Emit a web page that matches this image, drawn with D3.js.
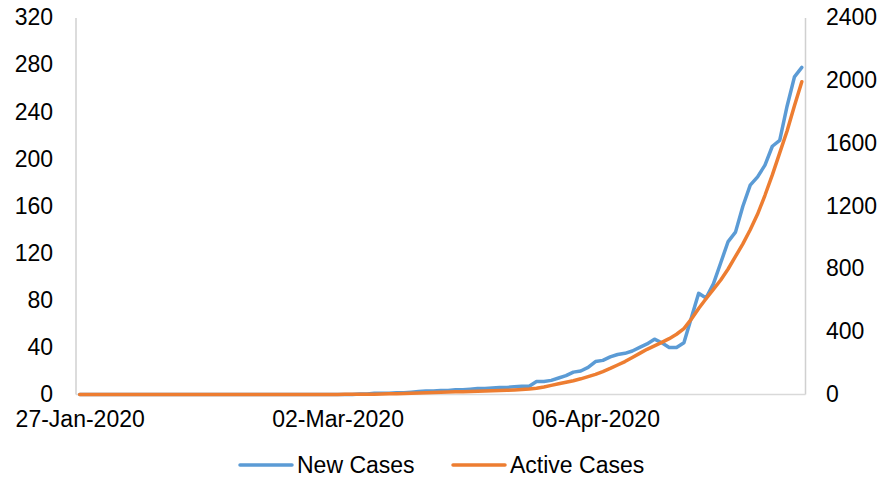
<!DOCTYPE html>
<html>
<head>
<meta charset="utf-8">
<script src="https://cdn.jsdelivr.net/npm/d3@7/dist/d3.min.js"></script>
<style>
  html, body { margin: 0; padding: 0; background: #fff; }
  svg text { font-family: "Liberation Sans", Arial, sans-serif; fill: #000; }
</style>
</head>
<body>
<svg id="chart" width="883" height="482"></svg>
<script>
// ---- data ----
const startDate = "2020-01-27";   // first day of the daily series
const seriesNames = ["New Cases", "Active Cases"];
const xTickLabels = ["27-Jan-2020", "02-Mar-2020", "06-Apr-2020"];
const leftTicks = [0, 40, 80, 120, 160, 200, 240, 280, 320];
const rightTicks = [0, 400, 800, 1200, 1600, 2000, 2400];

// New Cases (left axis), one value per day from 27-Jan-2020 to 04-May-2020
const newCases = [
  0,0,0,0,0,0,0,0,0,0,
  0,0,0,0,0,0,0,0,0,0,
  0,0,0,0,0,0,0,0,0,0,
  0,0,0,0,0,0,0,0,0.5,0.5,
  1,1,1,1.5,1.5,2,2.5,3,3,3.5,
  3.5,4,4,4.5,5,5,5.5,6,6,6.5,
  7,7,11,11,12,14,16,19,20,23,
  28,29,32,34,35,37,40,43,47,44,
  40,40,44,65,86,82,94,112,130,138,
  160,178,185,195,211,216,245,270,278
];
// Active Cases (right axis)
const activeCases = [
  0,0,0,0,0,0,0,0,0,0,
  0,0,0,0,0,0,0,0,0,0,
  0,0,0,0,0,0,0,0,0,0,
  0,0,0,0,0,0,1,1,1,2,
  2,3,4,5,6,8,10,11,13,15,
  16,17,18,19,21,22,24,25,27,29,
  32,35,40,48,58,68,78,88,100,114,
  128,146,166,188,210,236,262,288,310,332,
  356,384,420,480,548,610,670,730,800,880,
  960,1050,1150,1270,1400,1540,1680,1840,1994
];
const colors = ["#5B9BD5", "#ED7D31"];

// ---- layout ----
const svg = d3.select("#chart");
const plot = { left: 76, right: 805.5, top: 18, bottom: 394.5 };
const parse = d3.timeParse("%Y-%m-%d");
const fmt = d3.timeFormat("%d-%b-%Y");
const d0 = parse(startDate);
const n = newCases.length;
const dates = d3.range(n).map(i => d3.timeDay.offset(d0, i));

// Excel date axis: each day occupies a bin, points sit in bin centres
const x = d3.scaleTime()
  .domain([d3.timeHour.offset(d0, -12), d3.timeHour.offset(dates[n - 1], 12)])
  .range([plot.left, plot.right]);
const yL = d3.scaleLinear().domain([0, 320]).range([plot.bottom, plot.top]);
const yR = d3.scaleLinear().domain([0, 2400]).range([plot.bottom, plot.top]);

const axisColor = "#D0D0D0";
// axis lines
svg.append("line").attr("x1", plot.left).attr("x2", plot.left)
  .attr("y1", plot.top).attr("y2", plot.bottom)
  .attr("stroke", axisColor).attr("stroke-width", 1.5);
svg.append("line").attr("x1", plot.right).attr("x2", plot.right)
  .attr("y1", plot.top).attr("y2", plot.bottom)
  .attr("stroke", axisColor).attr("stroke-width", 1.5);
svg.append("line").attr("x1", plot.left).attr("x2", plot.right)
  .attr("y1", plot.bottom).attr("y2", plot.bottom)
  .attr("stroke", "#D9D9D9").attr("stroke-width", 1.5);

const fs = 23;
const ff = '"Liberation Sans", Arial, sans-serif';
// left axis labels
const gL = svg.append("g").attr("transform", `translate(${plot.left},0)`)
  .call(d3.axisLeft(yL).tickValues(leftTicks).tickFormat(d3.format("d")).tickSize(0).tickPadding(23));
gL.select(".domain").remove();
gL.selectAll("text").attr("font-size", fs).attr("dy", "0.3em")
  .style("font-family", ff).attr("fill", "#000");

// right axis labels
const gR = svg.append("g").attr("transform", `translate(${plot.right},0)`)
  .call(d3.axisRight(yR).tickValues(rightTicks).tickFormat(d3.format("d")).tickSize(0).tickPadding(20.5));
gR.select(".domain").remove();
gR.selectAll("text").attr("font-size", fs).attr("dy", "0.3em")
  .style("font-family", ff).attr("fill", "#000");

// x axis labels
const xTickDates = xTickLabels.map(s => d3.timeParse("%d-%b-%Y")(s));
const gX = svg.append("g").attr("transform", `translate(0,${plot.bottom})`)
  .call(d3.axisBottom(x).tickValues(xTickDates).tickFormat(fmt).tickSize(0).tickPadding(16));
gX.select(".domain").remove();
gX.selectAll("text").attr("font-size", fs)
  .style("font-family", ff).attr("fill", "#000");

// lines
const lineL = d3.line().x((d, i) => x(dates[i])).y(d => yL(d));
const lineR = d3.line().x((d, i) => x(dates[i])).y(d => yR(d));

svg.append("path").datum(newCases).attr("d", lineL)
  .attr("fill", "none").attr("stroke", colors[0]).attr("stroke-width", 3.5)
  .attr("stroke-linejoin", "round").attr("stroke-linecap", "round");
svg.append("path").datum(activeCases).attr("d", lineR)
  .attr("fill", "none").attr("stroke", colors[1]).attr("stroke-width", 3.5)
  .attr("stroke-linejoin", "round").attr("stroke-linecap", "round");

// legend
const legendItems = [
  { name: seriesNames[0], color: colors[0], x1: 240, x2: 292 },
  { name: seriesNames[1], color: colors[1], x1: 453, x2: 505 }
];
const legY = 465;
legendItems.forEach(it => {
  svg.append("line").attr("x1", it.x1).attr("x2", it.x2)
    .attr("y1", legY).attr("y2", legY)
    .attr("stroke", it.color).attr("stroke-width", 3.5).attr("stroke-linecap", "round");
  svg.append("text").attr("x", it.x2 + 5).attr("y", legY + 7.5)
    .attr("font-size", fs).style("font-family", ff).text(it.name);
});
</script>
</body>
</html>
